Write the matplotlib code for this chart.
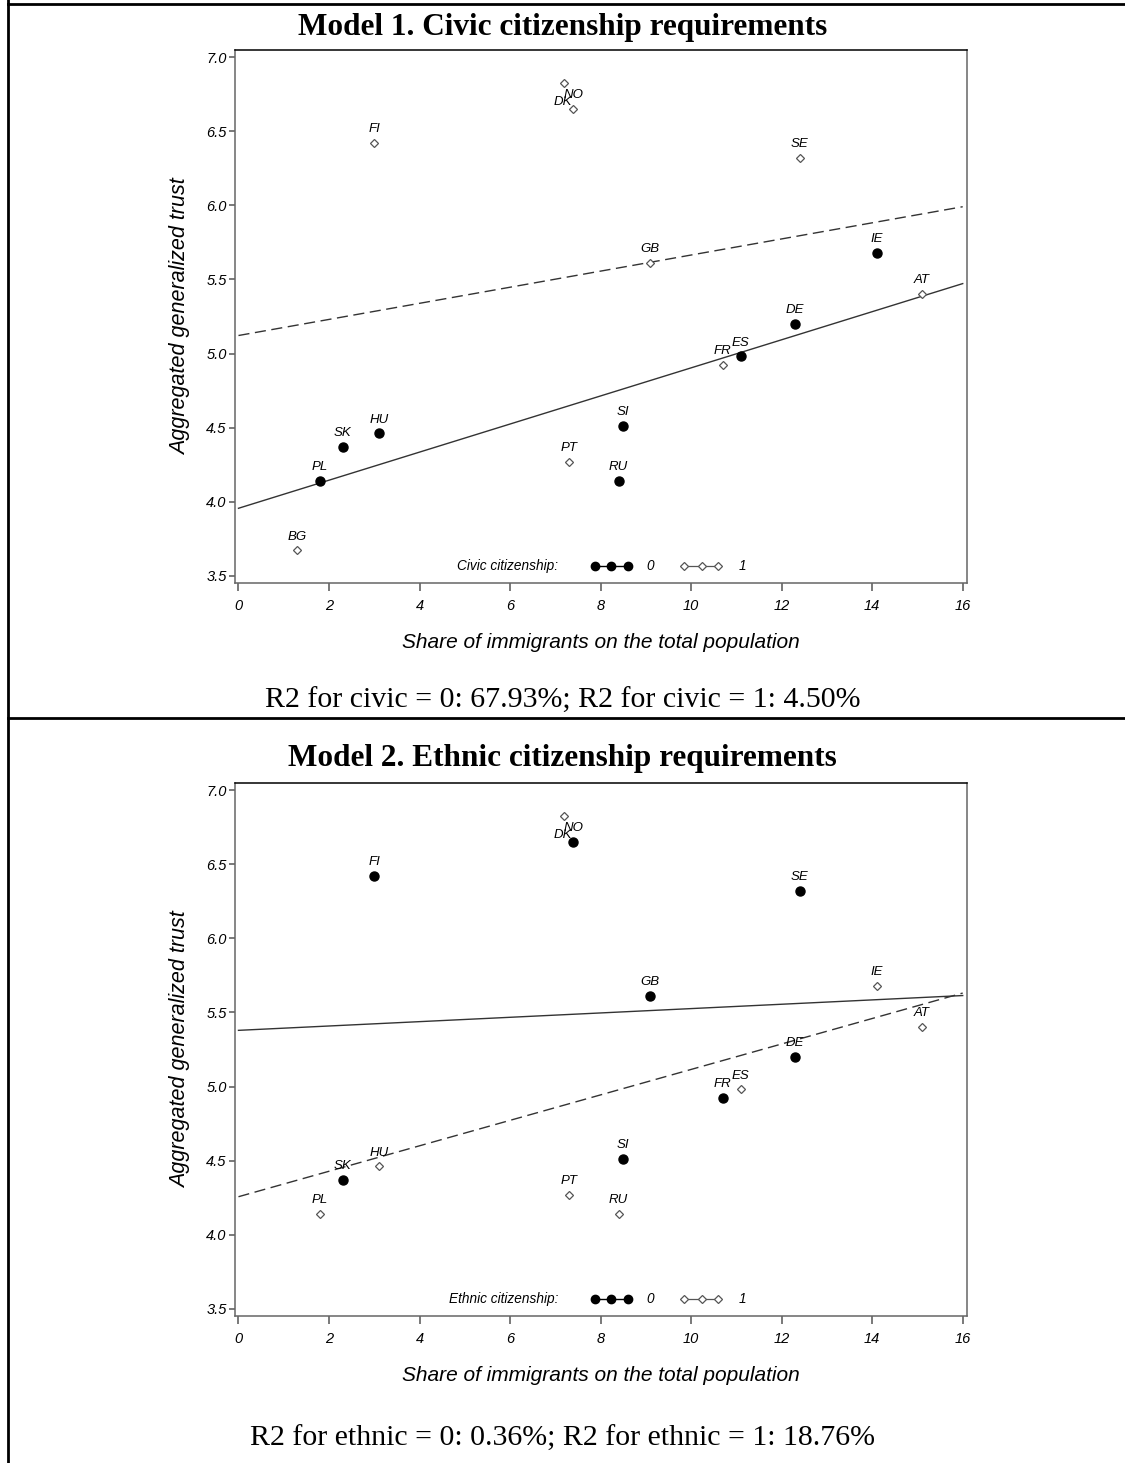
import numpy as np
import matplotlib.pyplot as plt
from matplotlib.lines import Line2D

# country data: immigrant share (%) and aggregated trust
countries = ["FI", "DK", "NO", "SE", "GB", "IE", "AT", "DE", "ES",
             "FR", "SI", "HU", "SK", "PT", "RU", "PL", "BG"]
immig = [3.0, 7.2, 7.4, 12.4, 9.1, 14.1, 15.1, 12.3, 11.1,
         10.7, 8.5, 3.1, 2.3, 7.3, 8.4, 1.8, 1.3]
trust = [6.42, 6.83, 6.65, 6.32, 5.61, 5.68, 5.40, 5.20, 4.98,
         4.92, 4.51, 4.46, 4.37, 4.27, 4.14, 4.14, 3.67]
civic = [1, 1, 1, 1, 1, 0, 1, 0, 0, 1, 0, 0, 0, 1, 0, 0, 1]
ethnic = [0, 1, 0, 0, 0, 1, 1, 0, 1, 0, 0, 1, 0, 1, 1, 1, np.nan]

xticks = [0, 2, 4, 6, 8, 10, 12, 14, 16]
yticks = [3.5, 4.0, 4.5, 5.0, 5.5, 6.0, 6.5, 7.0]

titles = ["Model 1. Civic citizenship requirements",
          "Model 2. Ethnic citizenship requirements"]
r2_notes = ["R2 for civic = 0: 67.93%; R2 for civic = 1: 4.50%",
            "R2 for ethnic = 0: 0.36%; R2 for ethnic = 1: 18.76%"]
legend_names = ["Civic citizenship:", "Ethnic citizenship:"]

W, H = 1125, 1463
SANS = ["Liberation Sans", "DejaVu Sans"]
SERIF = ["Liberation Serif", "DejaVu Serif"]
GREY = "#555555"


def px_y(y):
    return 1 - y / H


def draw_panel(ax, group, legend_name):
    x = np.array(immig)
    y = np.array(trust)
    g = np.array(group, dtype=float)

    # regression lines over the full x range
    xs = np.array([0, 16])
    for val, ls in [(0, "-"), (1, (0, (8, 4)))]:
        m = g == val
        b1, b0 = np.polyfit(x[m], y[m], 1)
        ax.plot(xs, b0 + b1 * xs, color="#333333", lw=1.0, ls=ls, zorder=2)

    m0 = g == 0
    m1 = g == 1
    ax.plot(x[m0], y[m0], "o", ms=6.5, color="black", zorder=3)
    ax.plot(x[m1], y[m1], "D", ms=4.5, mfc="white", mec=GREY, mew=0.9, zorder=3)

    for c, xi, yi, gi in zip(countries, x, y, g):
        if np.isnan(gi):
            continue
        off = (-1, -14) if c == "DK" else (0, 10)
        ax.annotate(c, (xi, yi), xytext=off, textcoords="offset points",
                    ha="center", va="center", fontsize=9.5, style="italic",
                    family=SANS)

    # legend drawn inside the frame along the bottom
    ly = 0.031
    ax.text(0.442, ly, legend_name, transform=ax.transAxes, ha="right",
            va="center", fontsize=9.8, style="italic", family=SANS)
    ax.add_line(Line2D([0.492, 0.514, 0.537], [ly] * 3, transform=ax.transAxes,
                       color="black", lw=1, marker="o", ms=6, mfc="black",
                       mec="black"))
    ax.text(0.567, ly, "0", transform=ax.transAxes, ha="center", va="center",
            fontsize=9.8, style="italic", family=SANS)
    ax.add_line(Line2D([0.614, 0.638, 0.660], [ly] * 3, transform=ax.transAxes,
                       color=GREY, lw=0.9, marker="D", ms=4.5, mfc="white",
                       mec=GREY, mew=0.9))
    ax.text(0.693, ly, "1", transform=ax.transAxes, ha="center", va="center",
            fontsize=9.8, style="italic", family=SANS)

    ax.set_xlim(-0.077, 16.088)
    ax.set_ylim(3.452, 7.05)
    ax.set_xticks(xticks)
    ax.set_yticks(yticks)
    ax.set_xticklabels([str(t) for t in xticks], fontsize=10.5, style="italic",
                       family=SANS)
    ax.set_yticklabels([f"{t:.1f}" for t in yticks], fontsize=10.5,
                       style="italic", family=SANS)
    ax.tick_params(axis="x", direction="out", length=6, width=1.1, color=GREY,
                   pad=6)
    ax.tick_params(axis="y", direction="out", length=4, width=1.1, color=GREY,
                   pad=2)
    for s in ["left", "bottom", "right"]:
        ax.spines[s].set_color("#666666")
        ax.spines[s].set_linewidth(1.1)
    ax.spines["top"].set_color("black")
    ax.spines["top"].set_linewidth(1.1)
    ax.set_xlabel("Share of immigrants on the total population", fontsize=15,
                  style="italic", family=SANS, labelpad=14)
    ax.set_ylabel("Aggregated generalized trust", fontsize=15.5,
                  style="italic", family=SANS, labelpad=11)


fig = plt.figure(figsize=(W / 100, H / 100), dpi=100, facecolor="white")

shift = 733
for i in range(2):
    top = 50 + i * shift
    bottom = 582.7 + i * shift
    ax = fig.add_axes([235 / W, px_y(bottom), 731.7 / W, (bottom - top) / H])
    draw_panel(ax, civic if i == 0 else ethnic, legend_names[i])
    fig.text(0.5, px_y(35 + i * 731), titles[i], ha="center", va="baseline",
             fontsize=22.5, fontweight="bold", family=SERIF)
    fig.text(0.5, px_y(701 + i * 738), r2_notes[i], ha="center", va="center",
             fontsize=21.5, family=SERIF)

# table borders around the two panels
for seg in [([7.5, 7.5], [0, H]), ([7.5, W], [4, 4]), ([7.5, W], [718, 718])]:
    fig.add_artist(Line2D([v / W for v in seg[0]], [px_y(v) for v in seg[1]],
                          transform=fig.transFigure, color="black", lw=2.0))

fig.savefig("out.png", dpi=100, facecolor="white")
